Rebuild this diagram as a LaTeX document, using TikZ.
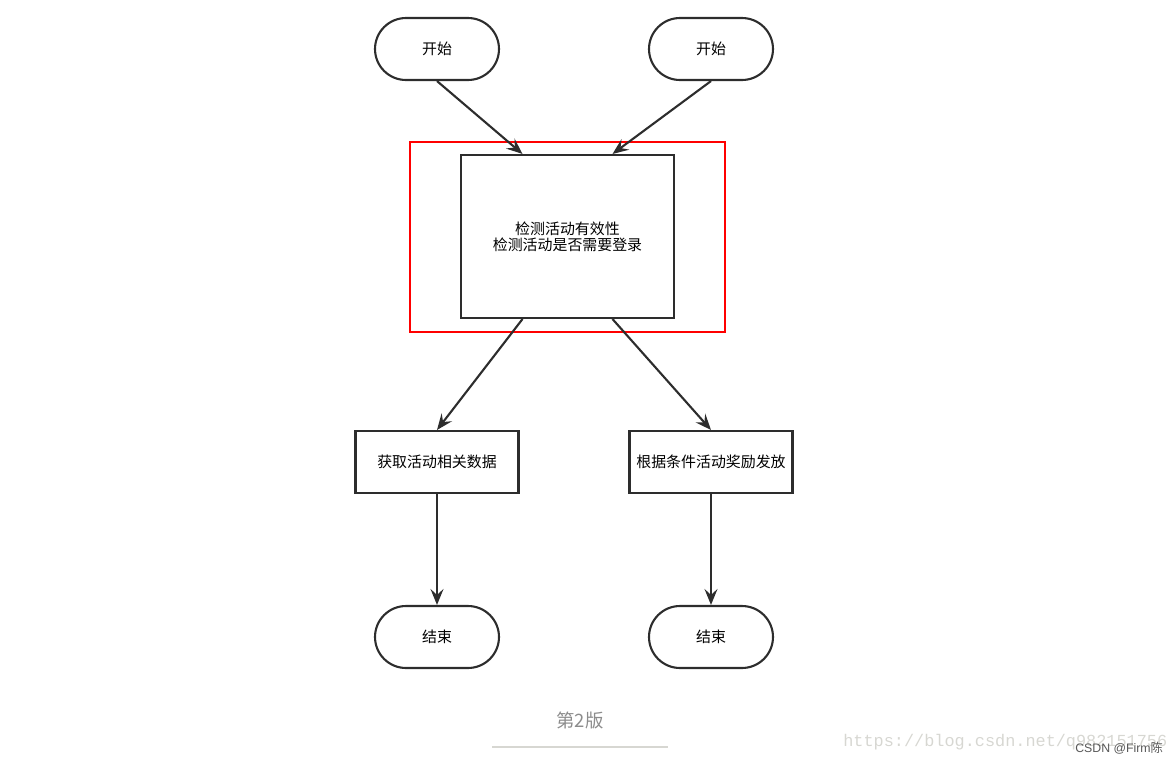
\documentclass[tikz,border=0pt]{standalone}
\usepackage{fontspec}
\setmainfont{Noto Sans CJK SC}
\newfontfamily\monofont{Liberation Mono}
\newfontfamily\latinsans{Liberation Sans}
\usetikzlibrary{arrows.meta, positioning, calc}
\definecolor{linegray}{RGB}{45,45,45}
\definecolor{captiongray}{RGB}{140,140,140}
\definecolor{markgray}{RGB}{215,215,210}
\tikzset{
  terminal/.style={draw=linegray, line width=1.2pt, rounded corners=0.62cm,
    minimum width=2.48cm, minimum height=1.24cm, font=\fontsize{8.5}{10}\selectfont},
  process/.style={draw=linegray, line width=1.2pt,
    minimum width=3.26cm, minimum height=1.24cm, inner sep=0pt, font=\fontsize{8.5}{10}\selectfont},
  flow/.style={-{Stealth[length=3.2mm, width=2.6mm, inset=1.2mm]}, draw=linegray, line width=1.2pt}
}
\begin{document}
\begin{tikzpicture}[x=0.02cm, y=-0.02cm]
  \useasboundingbox (0,0) rectangle (1174,762);
  % start points
  \node[terminal] (start1) at (437,49) {开始};
  \node[terminal] (start2) at (711,49) {开始};
  % check box
  \node[process, minimum width=4.26cm, minimum height=3.26cm, align=center] (check) at (567.5,236.5)
    {检测活动有效性\\[-1pt]检测活动是否需要登录};
  \draw[red, line width=1.2pt] ($(check.north west)+(-50,-12)$) rectangle ($(check.south east)+(50,13)$);
  % branches
  \node[process] (fetch) at (437,462) {获取活动相关数据};
  \node[process] (reward) at (711,462) {根据条件活动奖励发放};
  \node[terminal] (end1) at (437,637) {结束};
  \node[terminal] (end2) at (711,637) {结束};
  % connectors
  \draw[flow] (start1.south) -- ($(check.north)+(-45,0)$);
  \draw[flow] (start2.south) -- ($(check.north)+(45,0)$);
  \draw[flow] ($(check.south)+(-45,0)$) -- (fetch.north);
  \draw[flow] ($(check.south)+(45,0)$) -- (reward.north);
  \draw[flow] (fetch.south) -- (end1.north);
  \draw[flow] (reward.south) -- (end2.north);
  % caption
  \node[text=captiongray, font=\fontsize{10.5}{12}\selectfont] (caption) at (580,720) {第2版};
  \draw[markgray, line width=0.6pt] (492,747) -- (668,747);
  % watermark
  \node[text=markgray, font=\monofont\fontsize{9.6}{11}\selectfont, anchor=west, inner sep=0pt] (url) at (843,742) {https://blog.csdn.net/q982151756};
  \node[text=linegray!80, font=\latinsans\fontsize{7}{8}\selectfont, anchor=west, inner sep=0pt] (mark) at (1075,748) {CSDN @Firm{\fontspec{Noto Sans CJK SC}陈}};
\end{tikzpicture}
\end{document}
